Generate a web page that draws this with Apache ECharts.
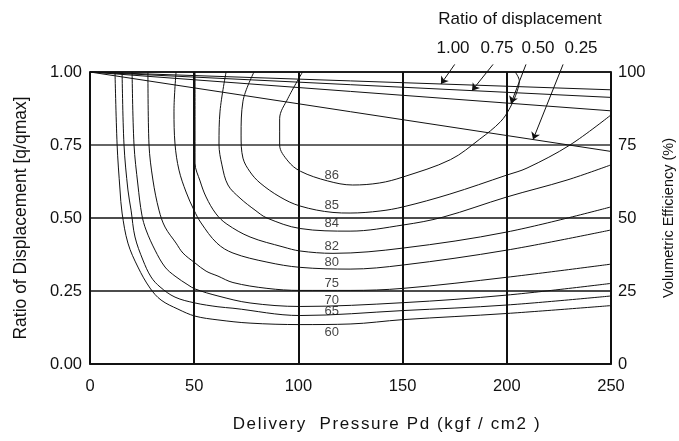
<!DOCTYPE html>
<html>
<head>
<meta charset="utf-8">
<script src="https://cdn.jsdelivr.net/npm/echarts@6/dist/echarts.min.js"></script>
<style>
  html, body { margin: 0; padding: 0; background: #fff; }
  #chart { width: 679px; height: 441px; }
</style>
</head>
<body>
<div id="chart"></div>
<script>
// Axis ranges
const pressureTicks = [0, 50, 100, 150, 200, 250];
const ratioTicks = [0, 0.25, 0.5, 0.75, 1];
const efficiencyTicks = [0, 25, 50, 75, 100];

// Iso-efficiency contours: [delivery pressure, ratio of displacement]
const eff86 = [[102,1.0],[95,0.91],[91,0.84],[91,0.75],[95,0.695],[101,0.66],[114,0.627],[126,0.613],[139,0.62],[150,0.64],[173,0.70],[187,0.77],[197,0.83],[201.5,0.877],[205,0.935],[206,0.97],[204,1.0]];
const eff85 = [[78.7,1.0],[73.4,0.90],[72.5,0.784],[73.4,0.705],[76.8,0.658],[81.6,0.62],[91.2,0.572],[100.8,0.541],[116.6,0.519],[124.8,0.517],[139.2,0.524],[150.2,0.538],[172.7,0.582],[200,0.647],[209.7,0.671],[230.3,0.75],[250,0.853]];
const eff84 = [[65.3,1.0],[62.4,0.866],[61.9,0.753],[63.3,0.682],[66.2,0.613],[72,0.568],[79.2,0.527],[84.9,0.50],[100.8,0.464],[124.8,0.455],[150.2,0.476],[169.4,0.503],[200,0.572],[228.9,0.63],[250,0.682]];
const eff82 = [[50.4,1.0],[50.4,0.836],[50.4,0.688],[52.8,0.627],[55.7,0.572],[60.5,0.514],[65.7,0.479],[76.8,0.435],[92.6,0.401],[100.8,0.387],[116.6,0.379],[150.2,0.397],[200,0.452],[250,0.538]];
const eff80 = [[41.3,1.0],[40.3,0.866],[40.8,0.753],[42.7,0.664],[46.1,0.589],[49.9,0.527],[53.3,0.483],[60.9,0.414],[68.6,0.38],[84.9,0.349],[100.8,0.331],[124.8,0.325],[150.2,0.339],[200,0.39],[250,0.459]];
const eff75 = [[27.8,1.0],[28.3,0.753],[30.2,0.63],[33.1,0.527],[36,0.469],[41.3,0.414],[44.6,0.38],[50.4,0.346],[55.7,0.318],[61.4,0.301],[68.6,0.279],[84.9,0.259],[100.8,0.252],[124.8,0.252],[150.2,0.259],[200,0.297],[250,0.342]];
const eff70 = [[20.2,1.0],[21.1,0.753],[23,0.613],[24.9,0.51],[26.9,0.459],[31.2,0.39],[36,0.332],[40.8,0.301],[47,0.271],[50.4,0.257],[61.4,0.233],[76.8,0.209],[100.8,0.197],[150.2,0.21],[200,0.236],[250,0.276]];
const eff65 = [[15.4,1.0],[16.3,0.753],[18.2,0.596],[19.7,0.527],[21.6,0.435],[25.4,0.356],[29.3,0.298],[33.6,0.264],[40.8,0.229],[50.4,0.209],[61.4,0.196],[68.6,0.191],[100.8,0.166],[150.2,0.183],[200,0.202],[250,0.233]];
const eff60 = [[12,1.0],[13,0.753],[14.4,0.596],[15.4,0.517],[18.2,0.414],[23,0.332],[28.8,0.26],[34.1,0.219],[42.2,0.188],[50.4,0.164],[61.4,0.151],[76.8,0.14],[100.8,0.135],[124.8,0.137],[150.2,0.152],[200,0.173],[250,0.2]];

const contourLevels = ['86', '85', '84', '82', '80', '75', '70', '65', '60'];
const contourCurves = [eff86, eff85, eff84, eff82, eff80, eff75, eff70, eff65, eff60];

// Displacement-ratio lines start at (0, 1.00); value reached at 250 kgf/cm2
const ratioNames = ['1.00', '0.75', '0.50', '0.25'];
const ratioAtMaxPressure = [0.939, 0.913, 0.867, 0.728];

const xAxisTitle = 'Delivery  Pressure Pd (kgf / cm2 )';

const FONT = 'Liberation Sans, Arial, Helvetica, sans-serif';
const INK = '#111';

// The x-axis title is set with wide tracking. Canvas text has a letterSpacing
// property; set it explicitly for every string so only the title is tracked.
const trackedTexts = { [xAxisTitle]: '1.6px' };
const baseFillText = CanvasRenderingContext2D.prototype.fillText;
CanvasRenderingContext2D.prototype.fillText = function (text, x, y, maxWidth) {
  if ('letterSpacing' in this) {
    const want = trackedTexts[text] || '0px';
    if (this.letterSpacing !== want) {
      this.letterSpacing = want;
      const f = this.font;
      this.font = f;
    }
  }
  return maxWidth === undefined ? baseFillText.call(this, text, x, y) : baseFillText.call(this, text, x, y, maxWidth);
};

// value of a contour's lower branch at a given pressure
function ratioOnCurve(curve, p) {
  for (let i = 0; i < curve.length - 1; i++) {
    const a = curve[i], b = curve[i + 1];
    if (a[0] <= p && b[0] >= p && b[0] > a[0]) {
      const t = (p - a[0]) / (b[0] - a[0]);
      return a[1] + t * (b[1] - a[1]);
    }
  }
  return null;
}
function ratioLineAt(k, p) {
  return 1 + (ratioAtMaxPressure[k] - 1) * p / 250;
}

const labelPressure = 116;
const series = [];

contourCurves.forEach((curve, i) => {
  series.push({
    type: 'line', name: 'eff' + contourLevels[i], data: curve,
    showSymbol: false, smooth: 0.35, clip: true, silent: true,
    lineStyle: { color: INK, width: 1 }
  });
});

// contour value labels, sitting on their curves
series.push({
  type: 'scatter', symbolSize: 0, silent: true,
  data: contourLevels.map((lv, i) => {
    const below = lv === '60';
    return {
      value: [labelPressure, ratioOnCurve(contourCurves[i], labelPressure)],
      label: {
        show: true, formatter: lv,
        position: below ? 'bottom' : 'top',
        distance: below ? 2 : (lv === '65' ? -4 : (lv === '70' ? -2 : 0))
      }
    };
  }),
  label: { color: INK, fontFamily: FONT, fontSize: 13 }
});

// straight displacement-ratio lines
ratioNames.forEach((nm, k) => {
  series.push({
    type: 'line', name: 'ratio ' + nm,
    data: [[0, 1], [250, ratioAtMaxPressure[k]]],
    showSymbol: false, silent: true,
    lineStyle: { color: INK, width: 1 }
  });
});

// pointer arrows from the ratio captions down to their lines
const arrowTails = [[175, 1.026], [193.4, 1.026], [209.2, 1.026], [227, 1.026]];
const arrowTipPressure = [168.4, 183.3, 202, 212.6];
series.push({
  type: 'lines', coordinateSystem: 'cartesian2d', clip: false, silent: true,
  symbol: ['none', 'arrow'], symbolSize: 7,
  lineStyle: { color: INK, width: 1, opacity: 1 },
  data: ratioNames.map((nm, k) => ({
    coords: [arrowTails[k], [arrowTipPressure[k], ratioLineAt(k, arrowTipPressure[k])]]
  }))
});

const captionFont = '17px ' + FONT;
const chart = echarts.init(document.getElementById('chart'), null, { renderer: 'canvas' });
chart.setOption({
  animation: false,
  backgroundColor: '#fff',
  grid: { left: 90, right: 68, top: 72, bottom: 77, containLabel: false, outerBoundsMode: 'none',
          show: true, borderColor: INK, borderWidth: 1.5, backgroundColor: 'transparent' },
  xAxis: {
    type: 'value', min: pressureTicks[0], max: pressureTicks[pressureTicks.length - 1], interval: 50,
    axisLine: { show: true, lineStyle: { color: INK, width: 1.5 } },
    axisTick: { show: false },
    axisLabel: { margin: 14, fontFamily: FONT, fontSize: 16.5, color: INK },
    splitLine: { show: true, lineStyle: { color: INK, width: 2 } }
  },
  yAxis: [{
    type: 'value', min: ratioTicks[0], max: ratioTicks[ratioTicks.length - 1], interval: 0.25,
    name: 'Ratio of Displacement [q/qmax]', nameLocation: 'middle', nameGap: 60,
    nameTextStyle: { fontFamily: FONT, fontSize: 17.5, color: INK },
    axisLine: { show: true, lineStyle: { color: INK, width: 1.5 } },
    axisTick: { show: false },
    axisLabel: { margin: 8, fontFamily: FONT, fontSize: 16.5, color: INK, formatter: v => v.toFixed(2) },
    splitLine: { show: true, lineStyle: { color: [INK, INK, INK, '#333', INK], width: 1.5 } }
  }, {
    type: 'value', position: 'right', min: efficiencyTicks[0], max: efficiencyTicks[efficiencyTicks.length - 1], interval: 25,
    name: 'Volumetric Efficiency (%)', nameLocation: 'middle', nameGap: 50,
    nameTextStyle: { fontFamily: FONT, fontSize: 14.5, color: INK },
    axisLine: { show: true, lineStyle: { color: INK, width: 1.5 } },
    axisTick: { show: false },
    axisLabel: { margin: 7, fontFamily: FONT, fontSize: 16.5, color: INK },
    splitLine: { show: false }
  }],
  graphic: [
    { type: 'text', silent: true, style: { text: 'Ratio of displacement', x: 520, y: 19, font: captionFont, fill: INK, textAlign: 'center', textVerticalAlign: 'middle', align: 'center', verticalAlign: 'middle' } },
    ...ratioNames.map((nm, k) => ({
      type: 'text', silent: true,
      style: { text: nm, x: [453, 497, 538, 581][k], y: 48, font: captionFont, fill: INK, textAlign: 'center', textVerticalAlign: 'middle', align: 'center', verticalAlign: 'middle' }
    })),
    { type: 'text', silent: true, style: { text: xAxisTitle, x: 387, y: 424, font: '17px ' + FONT, fill: INK, textAlign: 'center', textVerticalAlign: 'middle', align: 'center', verticalAlign: 'middle' } }
  ],
  series: series
});
</script>
</body>
</html>
